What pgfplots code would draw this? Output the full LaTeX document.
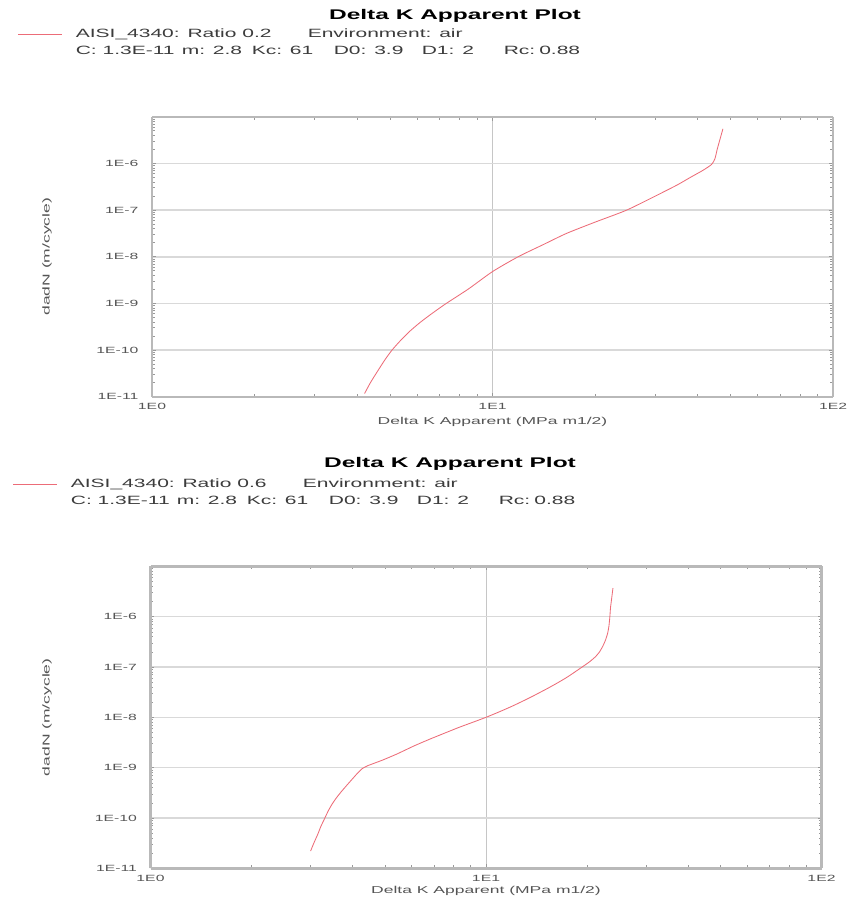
\documentclass[border=0pt]{standalone}
\usepackage{fontspec}
\setmainfont{Liberation Sans}[FakeStretch=1.75]
\usepackage{pgfplots}
\pgfplotsset{compat=1.18}
\definecolor{curvecol}{RGB}{236,108,120}
\definecolor{tickcol}{RGB}{85,85,85}
\definecolor{legtext}{RGB}{60,60,60}
\pgfplotsset{
  every axis/.append style={
    scale only axis,
    xmin=1, xmax=100, ymin=1e-11, ymax=1e-5,
    xtick={1,10,100}, xticklabels={1E0,1E1,1E2},
    ytick={1e-11,1e-10,1e-9,1e-8,1e-7,1e-6},
    yticklabels={1E-11,1E-10,1E-9,1E-8,1E-7,1E-6},
    minor xtick={2,3,4,5,6,7,8,9,20,30,40,50,60,70,80,90},
    minor ytick={2e-11,3e-11,4e-11,5e-11,6e-11,7e-11,8e-11,9e-11,
                 2e-10,3e-10,4e-10,5e-10,6e-10,7e-10,8e-10,9e-10,
                 2e-9,3e-9,4e-9,5e-9,6e-9,7e-9,8e-9,9e-9,
                 2e-8,3e-8,4e-8,5e-8,6e-8,7e-8,8e-8,9e-8,
                 2e-7,3e-7,4e-7,5e-7,6e-7,7e-7,8e-7,9e-7,
                 2e-6,3e-6,4e-6,5e-6,6e-6,7e-6,8e-6,9e-6},
    separate axis lines,
    axis line style={draw=gray!55, line width=2.4pt},
    tick style={draw=gray!80, line width=0.6pt},
    major tick length=4pt, minor tick length=3pt,
    xmajorgrids, ymajorgrids,
    major x grid style={draw=gray!45, line width=0.6pt},
    major y grid style={draw=gray!30, line width=1.6pt},
    ticklabel style={font=\fontsize{9}{10}\selectfont, text=tickcol},
    xticklabel style={yshift=-3pt},
    yticklabel style={xshift=-10pt},
    label style={font=\fontsize{10}{11}\selectfont, text=tickcol},
    legend cell align=left,
    legend image code/.code={\draw[#1] (0pt,0pt) -- (44pt,0pt);},
    legend style={draw=none, fill=none, inner sep=0pt, outer sep=0pt,
      anchor=north west, row sep=5pt,
      font=\fontsize{12}{13}\selectfont, text=legtext,
      nodes={inner sep=0pt, text height=9pt, text depth=3pt},
      /tikz/every odd column/.append style={column sep=13pt}},
  },
}
\newcommand{\paramline}{\makebox[106pt][l]{C: 1.3E-11}\makebox[70pt][l]{m: 2.8}\makebox[82pt][l]{Kc: 61}\makebox[88pt][l]{D0: 3.9}\makebox[82pt][l]{D1: 2}Rc:\hspace{4pt}0.88}
\begin{document}
\begin{tikzpicture}
\useasboundingbox (0pt,0pt) rectangle (848pt,-907pt);
% ---------- top chart ----------
\node[font=\fontsize{14}{16}\selectfont\bfseries] at (455pt,-16pt) {Delta K Apparent Plot};
\begin{loglogaxis}[
  at={(152pt,-396.7pt)}, anchor=south west,
  width=681pt, height=280pt,
  /pgf/number format/assume math mode=true,
  xlabel={Delta K Apparent (MPa m1/2)},
  ylabel={dadN (m/cycle)},
  xlabel style={at={(axis description cs:0.5,0)}, anchor=north, yshift=-17pt},
  ylabel style={at={(axis description cs:-0.1542,0.5)}, anchor=center},
  legend style={at={(axis description cs:-0.1968,1.3168)}},
]
\addplot[color=curvecol, line width=0.85pt, smooth, tension=0.4] coordinates {
(4.21,1.17e-11) (4.38,2.0e-11) (4.60,3.55e-11) (4.84,6.3e-11) (5.07,1.0e-10)
(5.36,1.58e-10) (5.71,2.51e-10) (6.15,3.98e-10) (6.69,6.31e-10) (7.32,1.0e-9)
(8.51,2.05e-9) (10,4.8e-9) (11.9,1.0e-8) (14.1,1.82e-8) (16.5,3.16e-8)
(20,5.5e-8) (24.8,1.0e-7) (30.9,2.2e-7) (35,3.5e-7) (38.1,5.0e-7)
(41.5,7.1e-7) (44.0,9.5e-7) (45.0,1.26e-6) (45.7,2.0e-6) (46.5,3.16e-6)
(47.5,5.5e-6)
};
\addlegendentry{\makebox[232pt][l]{AISI\_4340: Ratio 0.2}Environment: air}
\addlegendimage{empty legend}
\addlegendentry{\paramline}
\end{loglogaxis}
% ---------- bottom chart ----------
\node[font=\fontsize{14}{16}\selectfont\bfseries] at (450pt,-464pt) {Delta K Apparent Plot};
\begin{loglogaxis}[
  at={(150.5pt,-868.3pt)}, anchor=south west,
  width=671pt, height=302pt,
  /pgf/number format/assume math mode=true,
  xlabel={Delta K Apparent (MPa m1/2)},
  ylabel={dadN (m/cycle)},
  xlabel style={at={(axis description cs:0.5,0)}, anchor=north, yshift=-14pt},
  ylabel style={at={(axis description cs:-0.1542,0.5)}, anchor=center},
  legend style={at={(axis description cs:-0.2049,1.2924)}},
]
\addplot[color=curvecol, line width=0.85pt, smooth, tension=0.3] coordinates {
(3.0,2.2e-11) (3.07,3.2e-11) (3.15,4.7e-11) (3.22,6.8e-11) (3.3,9.6e-11)
(3.39,1.4e-10) (3.48,1.9e-10) (3.58,2.5e-10) (3.7,3.3e-10) (3.84,4.4e-10)
(4.0,6.0e-10) (4.15,7.9e-10) (4.28,9.6e-10) (4.45,1.1e-9) (4.9,1.4e-9)
(5.42,1.86e-9) (6.1,2.7e-9) (6.81,3.7e-9) (7.5,4.8e-9) (8.3,6.3e-9)
(9.1,7.9e-9) (10,1.0e-8) (11,1.3e-8) (12.05,1.7e-8) (13.5,2.45e-8)
(15.2,3.7e-8) (16.4,4.9e-8) (17.6,6.5e-8) (19.0,9.2e-8) (20.3,1.25e-7)
(21.2,1.6e-7) (21.8,2.0e-7) (22.3,2.6e-7) (22.7,3.4e-7) (23.05,4.7e-7)
(23.25,6.5e-7) (23.4,1.0e-6) (23.5,1.5e-6) (23.65,2.1e-6) (23.9,3.7e-6)
};
\addlegendentry{\makebox[232pt][l]{AISI\_4340: Ratio 0.6}Environment: air}
\addlegendimage{empty legend}
\addlegendentry{\paramline}
\end{loglogaxis}
\end{tikzpicture}
\end{document}
